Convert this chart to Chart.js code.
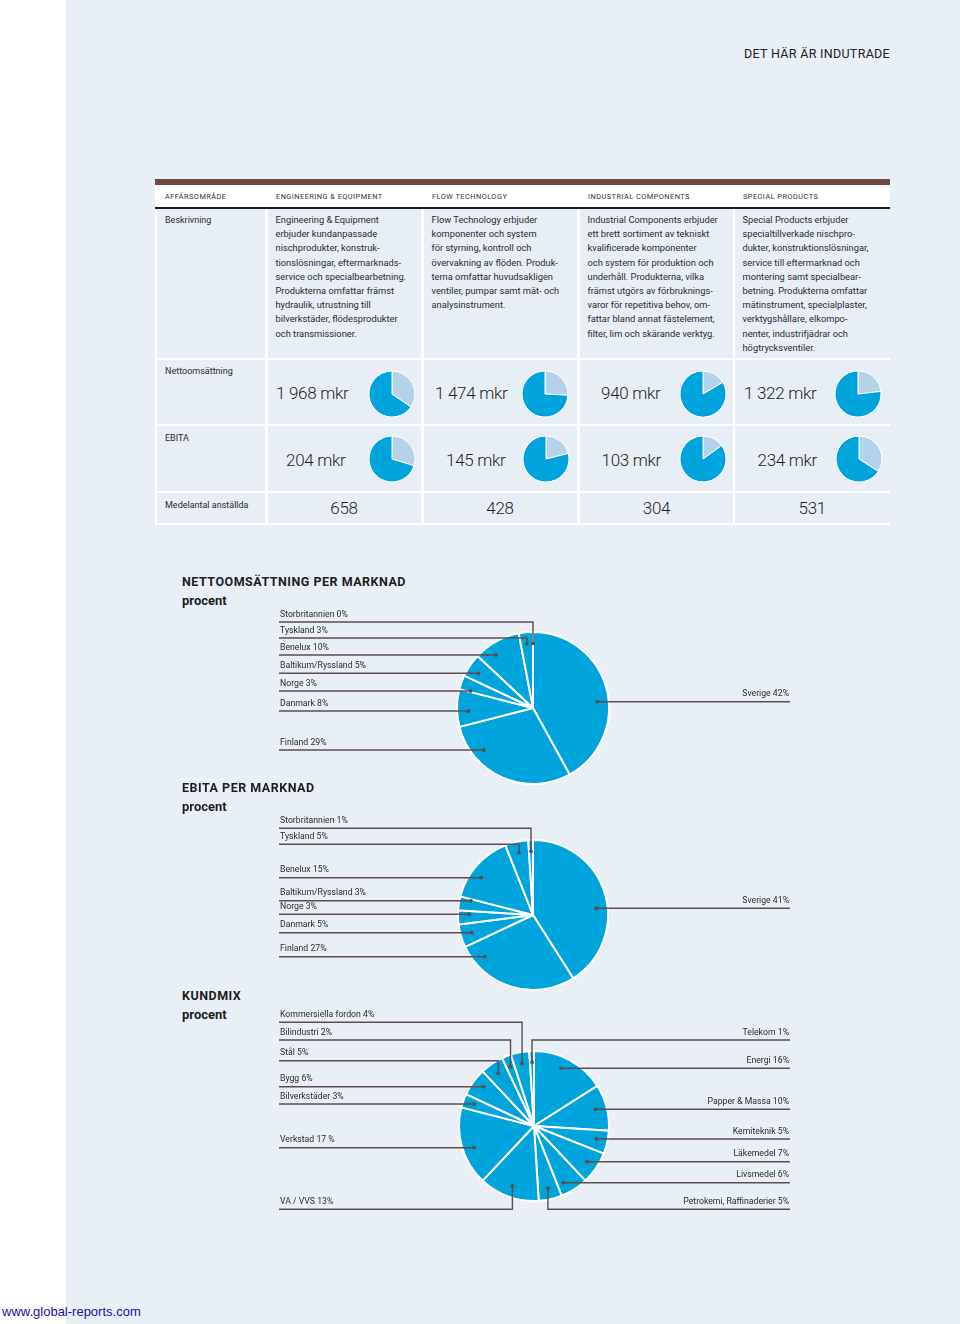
<!DOCTYPE html>
<html lang="sv">
<head>
<meta charset="utf-8">
<title>Det här är Indutrade</title>
<script src="https://cdn.jsdelivr.net/npm/chart.js@4.4.1/dist/chart.umd.min.js"></script>
<style>
  html, body { margin: 0; padding: 0; }
  body {
    width: 960px; height: 1324px; position: relative; overflow: hidden;
    background: #e9eff7; color: #2b2b2b;
    font-family: Roboto, "Noto Sans", sans-serif;
  }
  #strip { position: absolute; left: 0; top: 0; width: 66px; height: 1324px; background: #fff; }
  .t { position: absolute; white-space: nowrap; transform: translateY(-50%); }
  .c { transform: translate(-50%, -50%); }
  .r { transform: translate(-100%, -50%); }
  .box { position: absolute; }
  .title { font-size: 12.5px; letter-spacing: 0.3px; color: #222; }
  .head { font-size: 7.4px; letter-spacing: 0.45px; color: #333; }
  .desc { font-size: 9.3px; line-height: 14.2px; transform: none; color: #2b2b2b; }
  .rowlab { font-size: 9px; color: #2b2b2b; }
  .val { font-size: 17px; font-weight: 300; letter-spacing: -0.3px; color: #1e1e1e; }
  .sec { font-size: 12.5px; font-weight: 700; letter-spacing: 0.5px; color: #1e1e1e; }
  .sub { font-size: 13px; font-weight: 700; color: #1e1e1e; }
  #src { font-family: "Liberation Sans", Arial, sans-serif; font-size: 13px; color: #1a0dab; }
</style>
</head>
<body>
<div id="strip"></div>

<script>
// ========== データ ==========
// Affärsområden
const areas = ['Engineering & Equipment', 'Flow Technology', 'Industrial Components', 'Special Products'];
const netSales = [1968, 1474, 940, 1322];   // mkr
const ebita = [204, 145, 103, 234];         // mkr
const employees = [658, 428, 304, 531];

const descriptions = [
  'Engineering &amp; Equipment<br>erbjuder kundanpassade<br>nischprodukter, konstruk-<br>tionslösningar, eftermarknads-<br>service och specialbearbetning.<br>Produkterna omfattar främst<br>hydraulik, utrustning till<br>bilverkstäder, flödesprodukter<br>och transmissioner.',
  'Flow Technology erbjuder<br>komponenter och system<br>för styrning, kontroll och<br>övervakning av flöden. Produk-<br>terna omfattar huvudsakligen<br>ventiler, pumpar samt mät- och<br>analysinstrument.',
  'Industrial Components erbjuder<br>ett brett sortiment av tekniskt<br>kvalificerade komponenter<br>och system för produktion och<br>underhåll. Produkterna, vilka<br>främst utgörs av förbruknings-<br>varor för repetitiva behov, om-<br>fattar bland annat fästelement,<br>filter, lim och skärande verktyg.',
  'Special Products erbjuder<br>specialtillverkade nischpro-<br>dukter, konstruktionslösningar,<br>service till eftermarknad och<br>montering samt specialbear-<br>betning. Produkterna omfattar<br>mätinstrument, specialplaster,<br>verktygshållare, elkompo-<br>nenter, industrifjädrar och<br>högtrycksventiler.'
];

// Nettoomsättning per marknad, procent
const markets = ['Sverige', 'Finland', 'Danmark', 'Norge', 'Baltikum/Ryssland', 'Benelux', 'Tyskland', 'Storbritannien'];
const salesShares = [42, 29, 8, 3, 5, 10, 3, 0];
// EBITA per marknad, procent
const ebitaShares = [41, 27, 5, 3, 3, 15, 5, 1];
// Kundmix, procent
const sectors = ['Energi', 'Papper & Massa', 'Kemiteknik', 'Läkemedel', 'Livsmedel', 'Petrokemi, Raffinaderier',
  'VA / VVS', 'Verkstad', 'Bilverkstäder', 'Bygg', 'Stål', 'Bilindustri', 'Kommersiella fordon', 'Telekom'];
const sectorShares = [16, 10, 5, 7, 6, 5, 13, 17, 3, 6, 5, 2, 4, 1];

// ========== 色・レイアウト ==========
const BLUE = '#00a4dc';
const LIGHT = '#b4d3eb';
const LINE = '#5e4d4a';
const FONT = 'Roboto, "Noto Sans", sans-serif';

const colLeft = [157, 268, 424, 580, 735];
const colRight = [265, 421, 577, 733, 890];
const rows = [[209, 358], [360, 424], [426, 491], [493, 523]];

// ========== ユーティリティ ==========
function addText(x, y, html, cls) {
  const d = document.createElement('div');
  d.className = 't ' + cls;
  d.style.left = x + 'px';
  d.style.top = y + 'px';
  d.innerHTML = html;
  document.body.appendChild(d);
  return d;
}

function addBox(x, y, w, h, bg) {
  const d = document.createElement('div');
  d.className = 'box';
  d.style.cssText = `left:${x}px;top:${y}px;width:${w}px;height:${h}px;background:${bg}`;
  document.body.appendChild(d);
}

function mkr(n) {
  return String(n).replace(/\B(?=(\d{3})+(?!\d))/g, ' ') + ' mkr';
}

// pie placed so that its centre and radius land on the page coordinates given
function pieChart(area, center, radius, labels, values, colors, borderWidth, plugins) {
  const cv = document.createElement('canvas');
  cv.width = area.w;
  cv.height = area.h;
  cv.style.cssText = `position:absolute;left:${area.x}px;top:${area.y}px;width:${area.w}px;height:${area.h}px`;
  document.body.appendChild(cv);
  return new Chart(cv, {
    type: 'pie',
    data: {
      labels,
      datasets: [{ data: values, backgroundColor: colors, borderColor: '#ffffff', borderWidth, radius }],
    },
    options: {
      responsive: false,
      animation: false,
      layout: {
        padding: {
          left: center.x - radius - area.x,
          right: area.x + area.w - center.x - radius,
          top: center.y - radius - area.y,
          bottom: area.y + area.h - center.y - radius,
        },
      },
      plugins: { legend: { display: false }, tooltip: { enabled: false } },
    },
    plugins: plugins || [],
  });
}

// dot inside the slice: on the label line if it crosses the slice, else at mid angle
function anchor(arc, lineY, side) {
  const p = arc.getProps(['x', 'y', 'startAngle', 'endAngle', 'outerRadius'], true);
  const rr = p.outerRadius * 0.85;
  const dy = lineY - p.y;
  if (Math.abs(dy) < rr) {
    const dx = Math.sqrt(rr * rr - dy * dy) * (side === 'left' ? -1 : 1);
    let a = Math.atan2(dy, dx);
    while (a < p.startAngle) a += Math.PI * 2;
    while (a > p.startAngle + Math.PI * 2) a -= Math.PI * 2;
    if (a <= p.endAngle) return { x: p.x + dx, y: lineY };
  }
  const mid = (p.startAngle + p.endAngle) / 2;
  return { x: p.x + rr * Math.cos(mid), y: p.y + rr * Math.sin(mid) };
}

function leaderPlugin(area, texts, lineY, sides) {
  return {
    id: 'leaders',
    afterDatasetsDraw(chart) {
      const ctx = chart.ctx;
      const arcs = chart.getDatasetMeta(0).data;
      ctx.save();
      ctx.font = '8.7px ' + FONT;
      ctx.textBaseline = 'middle';
      arcs.forEach((arc, i) => {
        const y = lineY[i] - area.y;
        const left = sides[i] === 'left';
        const x0 = (left ? 279 : 790) - area.x;
        const p = anchor(arc, y, sides[i]);
        ctx.strokeStyle = LINE;
        ctx.lineWidth = 1.4;
        ctx.beginPath();
        ctx.moveTo(x0, y);
        ctx.lineTo(p.x, y);
        ctx.lineTo(p.x, p.y);
        ctx.stroke();
        ctx.fillStyle = LINE;
        ctx.beginPath();
        ctx.arc(p.x, p.y, 1.9, 0, Math.PI * 2);
        ctx.fill();
        ctx.fillStyle = '#2b2b2b';
        ctx.textAlign = left ? 'left' : 'right';
        ctx.fillText(texts[i], left ? x0 + 1 : x0 - 1, y - 7.5);
      });
      ctx.restore();
    },
  };
}

// ========== 表 ==========
function renderTable() {
  addText(890, 53, 'DET HÄR ÄR INDUTRADE', 'title r');

  addBox(155, 179, 735, 6, '#6e4b3f');          // brown band
  addBox(155, 185, 735, 340, '#ffffff');        // white grid
  addBox(155, 206.5, 735, 2, '#1c1c1c');        // rule under header
  rows.forEach(([top, bottom]) => {
    colLeft.forEach((l, c) => addBox(l, top, colRight[c] - l, bottom - top, '#e8eef6'));
  });

  const heads = ['AFFÄRSOMRÅDE'].concat(areas.map(a => a.toUpperCase()));
  heads.forEach((h, c) => addText(colLeft[c] + 8, 196, h.replace('&', '&amp;'), 'head'));

  addText(165, 220, 'Beskrivning', 'rowlab');
  descriptions.forEach((d, c) => addText(colLeft[c + 1] + 7.5, 213, d, 'desc'));

  addText(165, 371, 'Nettoomsättning', 'rowlab');
  addText(165, 438, 'EBITA', 'rowlab');
  addText(165, 505, 'Medelantal anställda', 'rowlab');

  const salesX = [276, 435, 601, 744];
  const salesPie = [391.6, 545.3, 702.5, 857.5];
  const ebitaX = [286, 446, 601.5, 757.5];
  const ebitaPie = [391.5, 546.3, 702.5, 859];
  const empX = [344, 500, 656.5, 812.3];

  const salesTotal = netSales.reduce((s, v) => s + v, 0);
  const ebitaTotal = ebita.reduce((s, v) => s + v, 0);

  netSales.forEach((v, i) => {
    addText(salesX[i], 393, mkr(v), 'val');
    pieChart({ x: salesPie[i] - 26, y: 393.5 - 26, w: 52, h: 52 }, { x: salesPie[i], y: 393.5 }, 23,
      [areas[i], 'Övriga'], [v, salesTotal - v], [LIGHT, BLUE], 1);
  });
  ebita.forEach((v, i) => {
    addText(ebitaX[i], 460, mkr(v), 'val');
    pieChart({ x: ebitaPie[i] - 26, y: 459.2 - 26, w: 52, h: 52 }, { x: ebitaPie[i], y: 459.2 }, 23,
      [areas[i], 'Övriga'], [v, ebitaTotal - v], [LIGHT, BLUE], 1);
  });
  employees.forEach((v, i) => addText(empX[i], 507.5, String(v), 'val c'));
}

// ========== 円グラフ ==========
function renderMarketPies() {
  addText(182, 581, 'NETTOOMSÄTTNING PER MARKNAD', 'sec');
  addText(182, 600, 'procent', 'sub');
  const a1 = { x: 270, y: 605, w: 530, h: 185 };
  pieChart(a1, { x: 533, y: 708 }, 76, markets, salesShares, markets.map(() => BLUE), 2,
    [leaderPlugin(a1, markets.map((m, i) => `${m} ${salesShares[i]}%`),
      [701.7, 750, 711, 691, 673.3, 655, 638, 622],
      ['right', 'left', 'left', 'left', 'left', 'left', 'left', 'left'])]);

  addText(182, 787, 'EBITA PER MARKNAD', 'sec');
  addText(182, 806, 'procent', 'sub');
  const a2 = { x: 270, y: 812, w: 530, h: 182 };
  pieChart(a2, { x: 533, y: 915 }, 75, markets, ebitaShares, markets.map(() => BLUE), 2,
    [leaderPlugin(a2, markets.map((m, i) => `${m} ${ebitaShares[i]}%`),
      [908.3, 956.7, 932.7, 914.3, 900.7, 877.7, 844.3, 828.3],
      ['right', 'left', 'left', 'left', 'left', 'left', 'left', 'left'])]);

  addText(182, 995, 'KUNDMIX', 'sec');
  addText(182, 1014, 'procent', 'sub');
  const a3 = { x: 270, y: 1005, w: 530, h: 212 };
  pieChart(a3, { x: 534, y: 1126 }, 75, sectors, sectorShares, sectors.map(() => BLUE), 2,
    [leaderPlugin(a3, sectors.map((s, i) => s === 'Verkstad' ? `${s} ${sectorShares[i]} %` : `${s} ${sectorShares[i]}%`),
      [1068.3, 1109.3, 1139, 1161.7, 1182.7, 1209.3, 1209.3, 1147.7, 1104, 1086.7, 1060.7, 1040, 1022.3, 1040],
      ['right', 'right', 'right', 'right', 'right', 'right', 'left', 'left', 'left', 'left', 'left', 'left', 'left', 'right'])]);
}

renderTable();
renderMarketPies();
addText(2, 1311, 'www.global-reports.com', '').id = 'src';
</script>
</body>
</html>
